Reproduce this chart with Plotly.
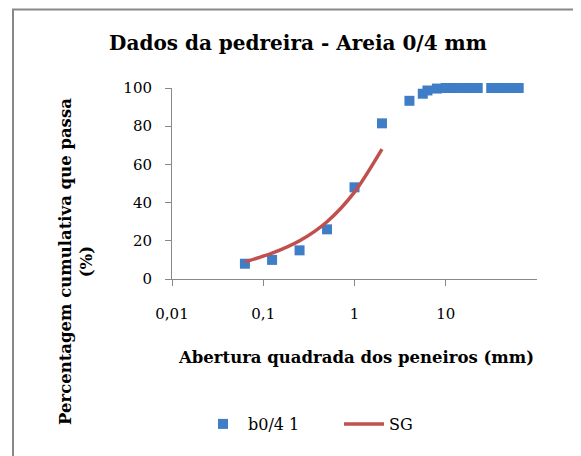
import plotly.graph_objects as go

# Data
sieve_mm = [0.063, 0.125, 0.25, 0.5, 1, 2, 4, 5.6, 6.3, 8, 10, 11.2, 12.5, 14, 16, 20, 22.4,
            31.5, 40, 45, 50, 56, 63]
passing_pct = [8, 10, 15, 26, 48, 81.5, 93.3, 97, 98.7, 99.7, 100, 100, 100, 100, 100, 100, 100,
               100, 100, 100, 100, 100, 100]
sg_mm = [0.063, 0.125, 0.25, 0.5, 1, 2]
sg_pct = [9, 13.5, 20, 30, 45.5, 68]
x_tickvals = [0.01, 0.1, 1, 10]
x_ticktext = ["0,01", "0,1", "1", "10"]
y_tickvals = [0, 20, 40, 60, 80, 100]

FONT = "DejaVu Serif"
W, H = 581, 456
OFF = 8  # page body margin
L, T = 172 - OFF, 88 - OFF
pw, ph = 365, 191
R, B = W - L - pw, H - T - ph

def px(xs):
    return (xs - OFF - L) / pw

def py(ys):
    return (T + ph - (ys - OFF)) / ph

fig = go.Figure()
fig.add_trace(go.Scatter(
    x=sieve_mm, y=passing_pct, mode="markers", name="b0/4 1",
    marker=dict(symbol="square", size=10, color="#3f7ec6"), cliponaxis=False,
))
fig.add_trace(go.Scatter(
    x=sg_mm, y=sg_pct, mode="lines", name="SG",
    line=dict(color="#c0504d", width=3.5, shape="spline", smoothing=0.8), cliponaxis=False,
))

fig.update_layout(
    width=W, height=H,
    margin=dict(l=L, r=R, t=T, b=B, autoexpand=False),
    paper_bgcolor="white", plot_bgcolor="white",
    font=dict(family=FONT, color="#000000", size=15),
    title=dict(text="<b>Dados da pedreira - Areia 0/4 mm</b>",
               x=(298 - OFF) / W, xanchor="center", y=1 - (43 - OFF) / H, yanchor="middle",
               font=dict(family=FONT, size=20, color="#000000")),
    showlegend=True,
    legend=dict(orientation="h", x=px(198), xanchor="left", y=py(424), yanchor="middle",
                font=dict(family=FONT, size=16), bgcolor="rgba(0,0,0,0)",
                entrywidth=86, entrywidthmode="pixels", itemwidth=40),
    xaxis=dict(type="log", range=[-2, 2], tickvals=x_tickvals, ticktext=x_ticktext,
               showgrid=False, zeroline=False, showline=True, linecolor="#888888", linewidth=1,
               ticks="outside", ticklen=6, tickcolor="#888888",
               ticklabelstandoff=15, tickfont=dict(family=FONT, size=15)),
    yaxis=dict(range=[0, 100], tickvals=y_tickvals,
               showgrid=False, zeroline=False, showline=True, linecolor="#888888", linewidth=1,
               ticks="outside", ticklen=6, tickcolor="#888888",
               ticklabelstandoff=10, tickfont=dict(family=FONT, size=15)),
    shapes=[dict(type="rect", xref="paper", yref="paper",
                 x0=px(13), x1=px(640), y0=py(9.5), y1=py(500),
                 line=dict(color="#888888", width=2), fillcolor="rgba(0,0,0,0)", layer="below")],
    annotations=[
        dict(text="<b>Abertura quadrada dos peneiros (mm)</b>", xref="paper", yref="paper",
             x=px(356), y=py(357), xanchor="center", yanchor="middle", showarrow=False,
             font=dict(family=FONT, size=16.5)),
        dict(text="<b>Percentagem cumulativa que passa<br>(%)</b>", xref="paper", yref="paper",
             x=px(76), y=py(262), xanchor="center", yanchor="middle", showarrow=False,
             textangle=-90, font=dict(family=FONT, size=16.5)),
    ],
)

fig.write_html("out.html")
